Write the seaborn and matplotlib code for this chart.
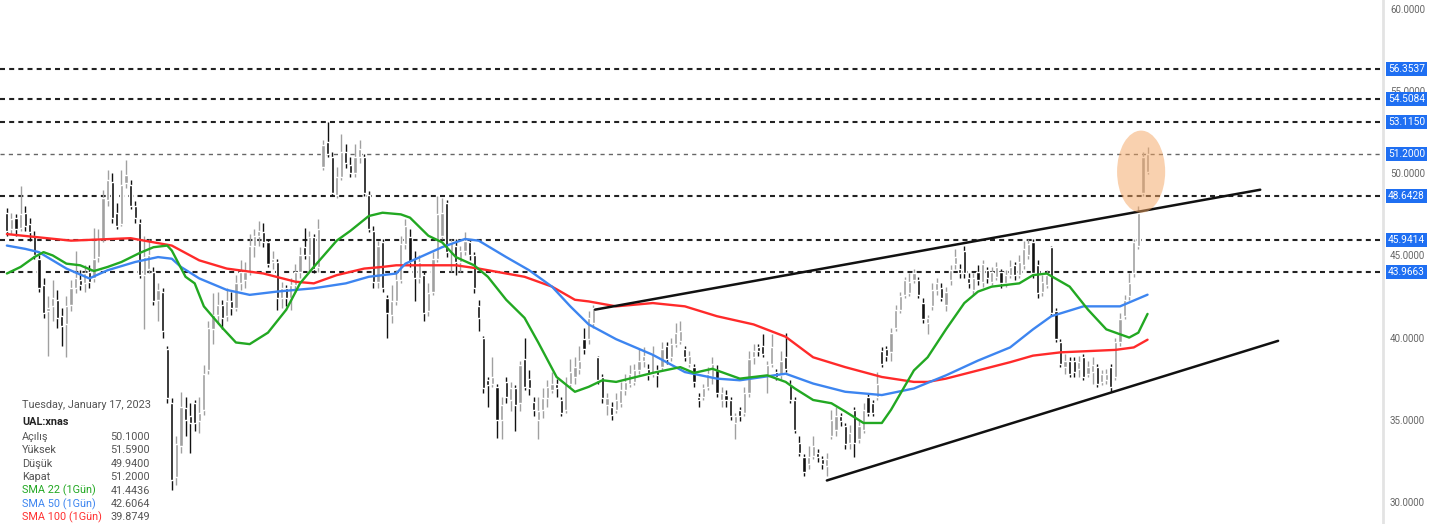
import numpy as np
import pandas as pd
import seaborn as sns
import matplotlib.pyplot as plt
from matplotlib.patches import Ellipse

# daily candles, UAL:xnas, ending Tuesday January 17, 2023
opens = [47.6, 46.6, 47.3, 46.7, 47.6, 46.9, 46.2, 44.8, 43.2, 41.6,
         41.9, 42.3, 41.3, 40.8, 42.0, 43.0, 43.5, 43.3, 44.0, 43.6,
         44.9, 46.0, 48.4, 49.5, 47.6, 46.9, 49.4, 49.3, 48.0, 47.0,
         43.8, 44.2, 44.0, 42.3, 42.8, 39.3, 36.0, 31.5, 33.4, 35.7,
         35.2, 36.0, 34.9, 35.6, 38.0, 40.5, 41.4, 42.0, 41.3, 42.2,
         41.8, 43.3, 43.5, 44.0, 45.6, 46.2, 46.4, 45.8, 44.6, 44.6,
         42.4, 43.0, 42.4, 43.2, 44.0, 45.5, 45.0, 46.1, 44.3, 50.4,
         51.9, 51.0, 48.7, 49.8, 51.3, 50.5, 50.0, 51.0, 51.0, 48.7,
         46.5, 43.4, 45.8, 42.4, 41.4, 42.2, 43.5, 45.7, 46.1, 44.8,
         43.6, 43.8, 41.6, 42.8, 44.8, 46.2, 48.2, 45.2, 45.6, 44.6,
         45.3, 45.8, 45.0, 41.9, 40.0, 37.4, 37.2, 37.0, 35.0, 37.3,
         36.2, 36.9, 36.0, 38.7, 37.5, 36.1, 35.0, 35.6, 36.3, 36.8,
         37.2, 36.2, 35.6, 37.2, 37.6, 38.1, 39.9, 39.9, 40.9, 38.8,
         37.6, 35.9, 35.8, 35.6, 36.0, 36.8, 37.2, 37.3, 38.0, 38.6,
         38.1, 37.8, 38.0, 38.2, 39.5, 38.8, 39.6, 39.8, 39.3, 38.4,
         38.2, 36.4, 36.4, 37.0, 37.6, 38.0, 36.2, 36.5, 36.2, 34.8,
         35.6, 35.4, 36.6, 38.8, 39.4, 39.5, 37.7, 38.4, 37.9, 37.7,
         38.8, 37.2, 36.2, 33.6, 32.7, 32.3, 32.8, 33.0, 32.6, 32.2,
         34.0, 34.4, 35.2, 34.6, 33.6, 35.6, 33.8, 34.4, 36.4, 36.0,
         36.4, 39.2, 39.3, 39.1, 40.6, 41.7, 42.6, 42.7, 43.5, 43.5,
         42.1, 40.9, 41.9, 42.9, 43.0, 42.0, 43.5, 44.5, 44.2, 45.3,
         43.6, 42.9, 44.0, 43.4, 44.1, 43.4, 43.7, 44.0, 43.3, 43.8,
         44.4, 43.8, 44.4, 45.0, 45.8, 44.4, 42.8, 43.2, 45.5, 41.6,
         39.7, 38.2, 38.6, 38.6, 38.1, 38.8, 37.8, 37.9, 38.2, 37.3,
         37.4, 38.2, 37.6, 39.7, 41.3, 42.5, 43.9, 45.6, 48.8, 50.1]
highs = [47.9, 47.6, 47.5, 49.2, 48.0, 47.3, 46.5, 45.0, 43.6, 42.5,
         43.5, 42.9, 41.8, 42.5, 43.5, 45.3, 44.1, 44.4, 44.4, 46.7,
         46.6, 49.0, 50.2, 50.0, 48.2, 50.2, 50.8, 49.6, 48.3, 47.2,
         46.2, 46.0, 44.3, 43.3, 43.0, 39.5, 36.3, 34.0, 36.7, 36.4,
         36.0, 36.2, 36.4, 38.3, 41.0, 42.7, 42.8, 42.3, 43.0, 42.8,
         43.8, 44.7, 44.6, 46.3, 46.6, 47.1, 47.0, 46.0, 45.3, 44.8,
         43.4, 43.2, 43.6, 44.5, 45.5, 46.7, 46.5, 46.3, 47.2, 52.0,
         53.1, 51.3, 50.4, 52.4, 51.8, 51.0, 51.8, 52.0, 51.2, 48.9,
         46.8, 45.9, 46.0, 42.6, 43.2, 44.1, 46.2, 47.2, 46.6, 45.3,
         45.0, 44.0, 43.3, 45.2, 48.6, 48.5, 48.4, 46.0, 46.0, 45.6,
         46.4, 46.0, 45.2, 42.3, 40.1, 37.6, 38.8, 37.2, 36.4, 37.6,
         37.3, 37.1, 38.6, 40.0, 38.0, 36.4, 36.4, 36.9, 37.4, 37.9,
         37.5, 36.4, 37.6, 38.7, 38.8, 39.5, 40.6, 41.6, 42.0, 38.9,
         37.8, 36.6, 36.1, 36.6, 37.3, 37.8, 38.3, 38.4, 39.3, 39.4,
         38.4, 39.5, 38.3, 39.7, 39.7, 40.0, 40.9, 41.0, 39.5, 39.2,
         38.4, 36.6, 37.2, 38.2, 38.8, 38.3, 37.0, 36.8, 36.4, 35.4,
         35.8, 37.0, 39.2, 39.6, 39.6, 40.2, 38.6, 40.2, 38.1, 39.2,
         40.3, 37.4, 36.4, 34.0, 32.9, 33.4, 34.0, 33.2, 32.8, 33.0,
         35.6, 35.8, 35.4, 34.8, 34.7, 35.8, 35.0, 36.0, 36.6, 36.2,
         37.9, 39.4, 39.5, 40.6, 42.0, 42.8, 43.7, 43.9, 44.2, 43.7,
         42.4, 41.4, 43.3, 43.6, 43.3, 43.1, 44.4, 45.4, 44.5, 45.6,
         43.9, 43.9, 44.4, 44.7, 44.3, 44.3, 44.6, 44.2, 44.1, 44.7,
         44.6, 45.0, 45.9, 46.0, 46.0, 44.7, 43.8, 44.1, 45.6, 41.8,
         39.9, 39.0, 38.8, 38.8, 38.9, 39.0, 38.6, 38.8, 38.4, 38.0,
         38.1, 38.4, 40.0, 41.5, 42.6, 43.9, 46.0, 48.0, 51.3, 51.59]
lows = [46.2, 46.3, 46.2, 46.5, 46.5, 45.9, 44.8, 42.8, 41.2, 38.9,
        41.0, 40.6, 39.5, 38.8, 41.6, 42.7, 42.9, 42.8, 43.0, 43.4,
        44.6, 45.8, 48.0, 47.0, 46.6, 46.8, 49.1, 47.8, 47.0, 43.6,
        40.5, 43.9, 42.0, 41.0, 40.0, 36.0, 30.7, 31.0, 33.0, 34.0,
        33.0, 34.3, 34.2, 35.3, 37.8, 39.6, 40.8, 40.5, 41.0, 41.4,
        41.6, 42.9, 43.0, 43.8, 44.9, 45.6, 45.5, 44.3, 44.2, 41.7,
        41.8, 41.9, 41.7, 42.8, 43.6, 44.8, 44.0, 43.9, 44.0, 50.2,
        51.0, 48.6, 48.5, 49.6, 50.3, 49.8, 49.8, 50.6, 48.6, 46.4,
        43.0, 43.0, 42.8, 40.0, 40.9, 42.0, 43.3, 45.4, 44.3, 42.2,
        43.3, 41.0, 41.3, 42.6, 44.6, 46.0, 44.9, 44.0, 43.8, 44.0,
        45.0, 44.7, 42.7, 40.4, 36.6, 35.8, 37.0, 33.9, 33.8, 36.0,
        35.5, 34.3, 35.5, 36.8, 36.5, 35.2, 33.8, 35.1, 35.8, 36.6,
        36.4, 35.2, 35.4, 36.9, 37.2, 37.8, 39.0, 39.6, 40.6, 37.2,
        36.0, 35.3, 35.0, 35.4, 35.8, 36.5, 37.0, 37.1, 37.8, 38.2,
        37.4, 37.6, 37.0, 38.0, 38.4, 38.6, 39.4, 39.6, 38.6, 38.2,
        37.0, 35.8, 36.2, 36.8, 37.2, 36.4, 35.8, 35.8, 35.0, 33.8,
        34.9, 35.2, 36.4, 38.4, 38.9, 38.8, 36.6, 38.2, 37.4, 37.5,
        37.9, 36.0, 34.2, 32.8, 31.6, 32.0, 32.6, 32.4, 32.0, 31.6,
        33.8, 34.0, 34.6, 33.2, 33.2, 32.7, 33.6, 34.2, 35.2, 35.2,
        36.2, 38.2, 38.6, 38.6, 40.4, 41.5, 42.4, 42.5, 43.3, 42.4,
        40.9, 40.2, 41.7, 42.6, 42.2, 41.6, 43.2, 44.2, 43.6, 43.6,
        43.0, 42.6, 43.2, 43.1, 43.3, 43.2, 43.5, 43.0, 43.1, 43.6,
        43.5, 43.6, 44.2, 44.8, 43.6, 42.4, 42.5, 43.0, 41.3, 39.7,
        38.2, 37.8, 37.6, 37.6, 37.6, 37.4, 37.6, 37.2, 37.0, 37.1,
        37.2, 36.7, 37.4, 39.5, 41.1, 42.3, 43.7, 45.4, 48.6, 49.94]
closes = [46.5, 47.2, 46.6, 47.5, 46.8, 46.4, 45.0, 43.0, 41.5, 41.8,
          42.4, 41.2, 40.7, 41.9, 43.0, 43.6, 43.2, 43.9, 43.4, 44.8,
          46.0, 48.5, 49.6, 47.3, 46.8, 49.3, 49.9, 48.0, 47.3, 43.8,
          44.9, 45.0, 42.2, 42.9, 40.4, 36.3, 31.3, 33.5, 35.8, 35.0,
          34.8, 34.8, 35.4, 37.8, 40.6, 41.4, 42.0, 41.2, 42.2, 41.8,
          43.3, 44.0, 44.0, 45.6, 46.2, 46.5, 45.8, 44.5, 44.8, 42.4,
          43.0, 42.4, 43.2, 44.0, 45.0, 45.0, 46.1, 44.2, 46.6, 51.7,
          51.2, 48.8, 49.8, 51.3, 50.6, 50.0, 51.0, 51.5, 48.8, 46.6,
          43.4, 45.6, 43.0, 41.5, 42.2, 43.5, 45.7, 46.8, 44.6, 43.6,
          44.6, 41.5, 42.7, 44.8, 47.5, 47.6, 45.2, 45.8, 44.6, 45.3,
          45.9, 45.0, 43.0, 41.2, 36.9, 37.1, 37.6, 35.0, 35.9, 36.4,
          36.9, 35.9, 38.3, 37.0, 36.9, 35.6, 35.5, 36.3, 37.0, 37.2,
          36.9, 35.4, 37.2, 37.9, 38.2, 38.6, 39.3, 41.2, 41.8, 37.4,
          36.3, 36.3, 35.3, 36.2, 36.8, 37.3, 37.8, 38.0, 38.6, 38.9,
          37.7, 39.0, 37.7, 39.3, 38.7, 39.6, 40.3, 40.4, 38.8, 38.9,
          37.3, 36.2, 36.9, 37.8, 38.4, 36.6, 36.6, 36.2, 35.2, 35.2,
          35.2, 36.6, 38.7, 39.2, 39.2, 39.0, 38.3, 39.4, 37.6, 38.6,
          38.1, 36.2, 34.4, 33.0, 31.8, 32.7, 33.4, 32.7, 32.3, 32.6,
          35.0, 35.2, 34.9, 33.5, 34.2, 33.6, 34.6, 35.6, 35.4, 35.4,
          37.2, 38.4, 38.9, 40.3, 41.7, 42.5, 43.5, 43.4, 43.9, 42.6,
          41.1, 41.2, 42.9, 43.3, 42.4, 42.8, 44.1, 44.9, 43.9, 43.9,
          43.3, 43.6, 43.5, 44.5, 43.6, 44.0, 44.3, 43.3, 43.8, 44.3,
          43.8, 44.6, 45.4, 45.7, 43.9, 42.7, 43.4, 43.8, 41.5, 39.9,
          38.4, 38.6, 37.8, 37.9, 38.5, 37.6, 38.2, 38.3, 37.2, 37.8,
          37.8, 37.0, 39.7, 41.1, 42.3, 43.3, 45.8, 47.6, 51.0, 51.2]

# moving averages (candle index, value)
sma22_idx = [0, 3, 6, 8, 10, 13, 16, 19, 22, 25, 29, 32, 35, 36, 39, 41, 43, 47, 50,
             53, 57, 61, 64, 67, 72, 75, 79, 82, 86, 88, 92, 95, 98, 102, 105, 109,
             113, 116, 120, 124, 127, 130, 133, 141, 147, 150, 154, 160, 166, 170,
             172, 176, 180, 183, 187, 191, 193, 198, 201, 205, 209, 212, 215, 221,
             224, 227, 232, 236, 240, 245, 247, 249]
sma22_val = [43.9, 44.3, 44.9, 45.2, 45.0, 44.5, 44.4, 44.05, 44.3, 44.6, 45.15, 45.5,
             45.6, 45.3, 43.7, 43.3, 41.9, 40.6, 39.7, 39.6, 40.3, 41.7, 43.3, 44.3,
             45.9, 46.5, 47.4, 47.6, 47.5, 47.3, 46.2, 45.8, 44.9, 44.4, 43.7, 42.3,
             41.2, 39.7, 37.6, 36.7, 37.0, 37.4, 37.3, 37.85, 38.2, 37.85, 38.1, 37.5,
             37.7, 37.3, 36.9, 36.2, 36.0, 35.5, 34.8, 34.8, 35.6, 38.0, 38.8, 40.5,
             42.1, 42.8, 43.1, 43.3, 43.8, 43.9, 43.1, 41.7, 40.5, 40.0, 40.3, 41.44]
sma50_idx = [0, 4, 7, 13, 18, 22, 28, 33, 36, 38, 42, 48, 53, 59, 67, 74, 79, 85, 87,
             95, 100, 103, 109, 114, 119, 123, 127, 133, 141, 148, 155, 160, 170, 176,
             183, 191, 198, 205, 212, 219, 224, 228, 235, 243, 249]
sma50_val = [45.6, 45.4, 45.2, 44.2, 43.6, 44.1, 44.6, 44.9, 44.8, 44.3, 43.6, 42.9,
             42.6, 42.8, 43.0, 43.3, 43.7, 43.9, 44.5, 45.5, 46.0, 45.9, 44.9, 44.1,
             43.1, 41.9, 40.8, 39.9, 38.95, 37.9, 37.5, 37.4, 37.8, 37.2, 36.7, 36.5,
             36.9, 37.7, 38.6, 39.4, 40.5, 41.3, 41.9, 41.9, 42.61]
sma100_idx = [0, 14, 27, 36, 42, 48, 56, 63, 67, 72, 78, 82, 85, 98, 103, 113, 119,
              124, 127, 133, 141, 148, 155, 163, 170, 176, 183, 191, 198, 201, 205,
              212, 219, 224, 230, 242, 246, 249]
sma100_val = [46.3, 45.9, 46.05, 45.6, 44.7, 44.2, 43.9, 43.4, 43.3, 43.8, 44.2, 44.3,
              44.4, 44.4, 44.2, 43.7, 43.1, 42.3, 42.2, 41.9, 42.1, 41.9, 41.3, 40.8,
              40.05, 38.8, 38.2, 37.6, 37.3, 37.3, 37.5, 38.0, 38.5, 38.9, 39.1, 39.25,
              39.4, 39.87]

levels = [56.3537, 54.5084, 53.1150, 48.6428, 45.9414, 43.9663]
last_price = 51.2000
trend_upper = [(128.4, 41.7), (273.6, 49.0)]
trend_lower = [(179.0, 31.3), (277.5, 39.8)]

info_rows = [("Açılış", "50.1000", "#555555"), ("Yüksek", "51.5900", "#555555"),
             ("Düşük", "49.9400", "#555555"), ("Kapat", "51.2000", "#555555"),
             ("SMA 22 (1Gün)", "41.4436", "#22a822"), ("SMA 50 (1Gün)", "42.6064", "#3d85f0"),
             ("SMA 100 (1Gün)", "39.8749", "#ff3030")]

sns.set_style("white")
plt.rcParams['font.family'] = ['Roboto', 'DejaVu Sans']

df = pd.DataFrame({"i": np.arange(len(closes)), "o": opens, "h": highs, "l": lows, "c": closes})
up = df[df.c >= df.o]
dn = df[df.c < df.o]

fig = plt.figure(figsize=(14.38, 5.24), dpi=100)
ax = fig.add_axes([0, 0, 1383 / 1438, 1])

for lv in levels:
    ax.axhline(lv, color="#222222", lw=1.5, ls=(0, (2.4, 2.0)), zorder=1)
ax.axhline(last_price, color="#666666", lw=1.0, ls=(0, (3, 3)), zorder=1)

for part, col in [(up, "#a0a0a0"), (dn, "#111111")]:
    ax.vlines(part.i, part.l, part.h, color=col, lw=1.0, zorder=2)
    ax.bar(part.i, (part.c - part.o).abs().clip(lower=0.08), bottom=part[["o", "c"]].min(axis=1),
           width=0.7, color=col, zorder=3)

sns.lineplot(x=sma100_idx, y=sma100_val, ax=ax, color="#ff2a2a", lw=1.7, zorder=4)
sns.lineplot(x=sma50_idx, y=sma50_val, ax=ax, color="#3d85f0", lw=1.7, zorder=4)
sns.lineplot(x=sma22_idx, y=sma22_val, ax=ax, color="#22a822", lw=1.7, zorder=4)

for tl in (trend_upper, trend_lower):
    ax.plot([tl[0][0], tl[1][0]], [tl[0][1], tl[1][1]], color="#111111", lw=1.8, zorder=4)

ax.add_patch(Ellipse((247.6, 50.1), 10.5, 5.0, facecolor="#f4a460", alpha=0.5,
                     edgecolor="none", zorder=5))

ax.set_xlim(-1.5, 300.4)
ax.set_ylim(28.65, 60.55)
ax.yaxis.tick_right()
ax.set_yticks([30, 35, 40, 45, 50, 55, 60])
ax.set_yticklabels([f"{v:.4f}" for v in [30, 35, 40, 45, 50, 55, 60]])
ax.tick_params(axis="y", length=0, pad=5, labelsize=7, labelcolor="#666666")
ax.set_xticks([])
for s in ["left", "top", "bottom"]:
    ax.spines[s].set_visible(False)
ax.spines["right"].set_color("#e3e3e3")
ax.spines["right"].set_linewidth(2)

for lv in levels + [last_price]:
    ax.annotate(f"{lv:.4f}", xy=(1, lv), xycoords=("axes fraction", "data"),
                xytext=(3.5, 0), textcoords="offset points", ha="left", va="center",
                fontsize=7.3, color="white", annotation_clip=False, zorder=8,
                bbox=dict(boxstyle="square,pad=0.2", facecolor="#1f6ff2", edgecolor="none"))

# info panel
ax.add_patch(plt.Rectangle((15 / 1383, 0), 150 / 1383, 131 / 524, transform=ax.transAxes,
                           facecolor="white", alpha=0.85, edgecolor="none", zorder=6))
ax.text(22 / 1383, 1 - 405 / 524, "Tuesday, January 17, 2023", transform=ax.transAxes,
        fontsize=7.8, color="#555555", va="center", zorder=7)
ax.text(22 / 1383, 1 - 422 / 524, "UAL:xnas", transform=ax.transAxes, fontsize=7.8,
        color="#222222", weight="bold", va="center", zorder=7)
for k, (lab, val, col) in enumerate(info_rows):
    yy = 1 - (437 + k * 13.4) / 524
    ax.text(22 / 1383, yy, lab, transform=ax.transAxes, fontsize=7.8, color=col,
            va="center", zorder=7)
    ax.text(150 / 1383, yy, val, transform=ax.transAxes, fontsize=7.8,
            color="#555555", va="center", ha="right", zorder=7)

fig.savefig("out.png", dpi=100)
